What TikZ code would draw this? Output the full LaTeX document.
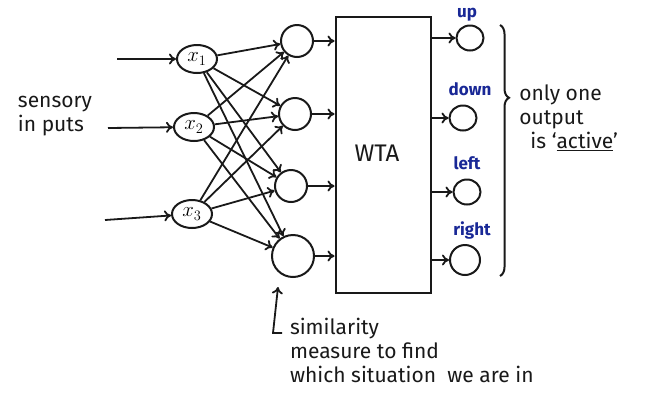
\documentclass[tikz,border=0pt]{standalone}
\usepackage{fontspec}
\setmainfont{Fira Sans}
\usetikzlibrary{arrows.meta,shapes.geometric,decorations.pathreplacing}
\definecolor{ink}{RGB}{25,25,25}
\definecolor{blueink}{RGB}{25,40,150}
\begin{document}
\begin{tikzpicture}[x=1pt,y=-1pt,
  line width=2pt, draw=ink,
  arr/.style={-{To[length=7pt,width=11pt]}, line width=1.8pt},
  xnode/.style={ellipse,draw,line width=2pt,minimum width=40pt,minimum height=28pt,inner sep=0pt,font=\fontsize{21}{24}\selectfont},
  hnode/.style={circle,draw,line width=2pt,minimum size=32pt,inner sep=0pt},
  onode/.style={ellipse,draw,line width=2pt,minimum width=27pt,minimum height=25pt,inner sep=0pt},
  lbl/.style={text=ink,font=\fontsize{21}{24}\selectfont,align=left},
  dir/.style={text=blueink,font=\fontsize{17}{19}\selectfont\bfseries}
]
\useasboundingbox (0,0) rectangle (645,392);
% input nodes
\node[xnode] (x1) at (197,59) {$x_1$};
\node[xnode] (x2) at (194,127) {$x_2$};
\node[xnode] (x3) at (192,214) {$x_3$};
% hidden nodes
\node[hnode] (h1) at (297,41) {};
\node[hnode] (h2) at (295,114) {};
\node[hnode] (h3) at (291,186) {};
\node[hnode,minimum size=42pt] (h4) at (293,256) {};
% WTA box
\node[draw,line width=2pt,minimum width=95pt,minimum height=276pt,inner sep=0pt] (wta) at (383,155) {};
\node[lbl,font=\fontsize{24}{26}\selectfont] (wtatext) at (377,153) {WTA};
% outputs
\node[onode] (o1) at (470,38) {};
\node[onode] (o2) at (463,118) {};
\node[onode] (o3) at (467,192) {};
\node[onode,minimum width=30pt,minimum height=30pt] (o4) at (465,260) {};
\node[dir] (lup) at (467,15) {up};
\node[dir] (ldown) at (470,89) {down};
\node[dir] (lleft) at (467,163) {left};
\node[dir] (lright) at (472,230) {right};
% input arrows
\coordinate (i1) at (117,59);
\coordinate (i2) at (108,128);
\coordinate (i3) at (105,220);
\draw[arr] (i1) -- (x1);
\draw[arr] (i2) -- (x2);
\draw[arr] (i3) -- (x3);
\node[lbl] (sens) at (55,116) {sensory\\in puts};
% full connections
\foreach \a in {x1,x2,x3}{
  \foreach \b in {h1,h2,h3,h4}{
    \draw[arr] (\a) -- (\b);
  }
}
% hidden to WTA
\draw[arr] (h1) -- (h1 -| wta.west);
\draw[arr] (h2) -- (h2 -| wta.west);
\draw[arr] (h3) -- (h3 -| wta.west);
\draw[arr] (h4) -- (h4 -| wta.west);
% WTA to outputs
\draw[arr] (o1 -| wta.east) -- (o1);
\draw[arr] (o2 -| wta.east) -- (o2);
\draw[arr] (o3 -| wta.east) -- (o3);
\draw[arr] (o4 -| wta.east) -- (o4);
% brace
\coordinate (bt) at (500,25);
\coordinate (bb) at (500,276);
\draw[decorate,decoration={brace,amplitude=9pt,aspect=0.29}] (bt) -- (bb);
\node[lbl,anchor=north west] (only) at (515,80) {only one\\output\\\ \ is `\underline{active}'};
% similarity annotation
\coordinate (sb) at (273,333);
\coordinate (sr) at (282,333);
\coordinate (st) at (278,287);
\draw[arr] (sr) -- (sb) -- (st);
\node[lbl,anchor=north west,inner sep=0pt] (sim) at (289,317) {similarity\\measure to find\\which situation \ we are in};
\end{tikzpicture}
\end{document}
